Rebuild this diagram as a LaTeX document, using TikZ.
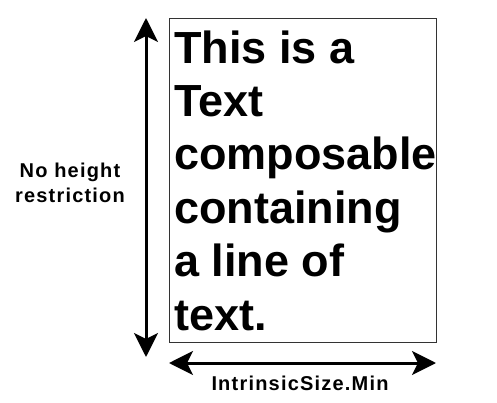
\documentclass[tikz,border=0pt]{standalone}
\usepackage{fontspec}
\setmainfont{Liberation Sans}
\newfontfamily\lblfont[LetterSpace=6]{Liberation Sans}
\usepackage{tikz}
\usetikzlibrary{arrows.meta, calc}

\tikzset{
  dimarrow/.style={line width=3pt, {Stealth[length=24pt, width=24pt, inset=6pt]}-{Stealth[length=24pt, width=24pt, inset=6pt]}},
  dimlabel/.style={inner sep=0pt, align=center, font=\lblfont\bfseries\fontsize{20}{25}\selectfont},
}

\begin{document}
\begin{tikzpicture}[x=1pt, y=-1pt]
\useasboundingbox (0,0) rectangle (497,403);

\node[draw=black!80, line width=1.2pt, minimum width=267pt, minimum height=324pt, anchor=north west, inner sep=0pt] (comp) at (169,18) {};
\node[anchor=north west, inner sep=0pt, align=left, font=\bfseries\fontsize{45}{53.4}\selectfont] (body) at (174,30.2)
  {This is a\\Text\\composable\\containing\\a line of\\text.};

\coordinate (vtop) at (146,18);
\coordinate (vbot) at (146,357);
\coordinate (hleft) at (169,363);
\coordinate (hright) at (436,363);

\draw[dimarrow] (vbot) to (vtop);
\draw[dimarrow] (hleft) to (hright);

\node[dimlabel, anchor=north] (hlabel) at (70,162.5) {No height\\restriction};
\node[dimlabel, anchor=base] (wlabel) at (300,390) {IntrinsicSize.Min};

\end{tikzpicture}
\end{document}
